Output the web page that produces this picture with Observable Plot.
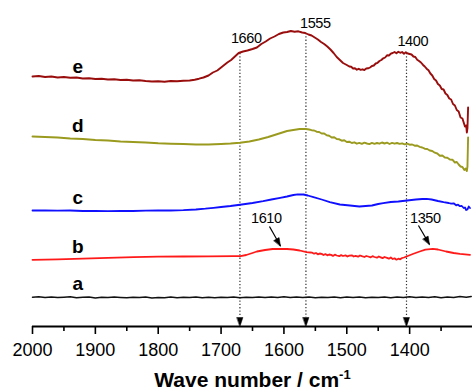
<!DOCTYPE html>
<html>
<head>
<meta charset="utf-8">
<script src="https://cdn.jsdelivr.net/npm/d3@7"></script>
<script src="https://cdn.jsdelivr.net/npm/@observablehq/plot@0.6"></script>
<style>
  html, body { margin: 0; padding: 0; background: #fff; }
  #chart { width: 472px; height: 389px; }
</style>
</head>
<body>
<div id="chart"></div>
<script>
// ---- data (wave number cm^-1, absorbance a.u. with offsets) ----
const seriesE = [[2000,2.50],[1990,2.505],[1980,2.495],[1970,2.50],[1960,2.49],[1950,2.495],[1940,2.487],[1930,2.49],[1920,2.48],[1910,2.482],[1900,2.475],[1890,2.478],[1880,2.47],[1870,2.472],[1860,2.465],[1850,2.468],[1840,2.46],[1830,2.462],[1820,2.455],[1810,2.45],[1800,2.452],[1790,2.448],[1780,2.455],[1770,2.452],[1760,2.458],[1750,2.46],[1742,2.468],[1735,2.478],[1728,2.49],[1720,2.51],[1713,2.54],[1706,2.56],[1698,2.60],[1690,2.64],[1684,2.665],[1678,2.70],[1672,2.735],[1665,2.75],[1658,2.76],[1650,2.775],[1643,2.79],[1636,2.825],[1629,2.85],[1622,2.88],[1615,2.90],[1608,2.925],[1601,2.94],[1595,2.945],[1589,2.955],[1583,2.948],[1577,2.952],[1571,2.94],[1566,2.935],[1561,2.92],[1556,2.91],[1551,2.89],[1546,2.87],[1541,2.845],[1536,2.825],[1531,2.80],[1526,2.77],[1521,2.735],[1516,2.695],[1511,2.665],[1506,2.635],[1500,2.615],[1496,2.60],[1493,2.598],[1490,2.58],[1487,2.583],[1484,2.568],[1481,2.577],[1478,2.566],[1475,2.572],[1472,2.565],[1469,2.58],[1466,2.582],[1463,2.59],[1460,2.605],[1457,2.61],[1454,2.63],[1451,2.637],[1448,2.655],[1445,2.665],[1442,2.682],[1439,2.69],[1436,2.712],[1433,2.71],[1430,2.728],[1427,2.735],[1424,2.745],[1421,2.733],[1418,2.748],[1415,2.737],[1412,2.745],[1409,2.728],[1406,2.742],[1403,2.73],[1400,2.725],[1397,2.72],[1394,2.70],[1391,2.695],[1388,2.668],[1385,2.655],[1382,2.64],[1379,2.618],[1376,2.60],[1373,2.578],[1370,2.562],[1367,2.53],[1364,2.51],[1361,2.475],[1358,2.46],[1355,2.425],[1352,2.41],[1349,2.375],[1346,2.37],[1343,2.33],[1340,2.315],[1337,2.28],[1334,2.27],[1331,2.225],[1328,2.21],[1325,2.165],[1322,2.15],[1319,2.09],[1316,2.08],[1314,2.04],[1312,2.0],[1310,2.01],[1309,1.94],[1308,1.985],[1307,2.19]];
const seriesD = [[2000,1.90],[1980,1.895],[1960,1.89],[1940,1.88],[1920,1.875],[1900,1.865],[1880,1.86],[1860,1.85],[1840,1.845],[1820,1.84],[1800,1.832],[1780,1.828],[1760,1.825],[1740,1.82],[1720,1.82],[1700,1.825],[1685,1.83],[1670,1.838],[1655,1.85],[1640,1.87],[1625,1.895],[1610,1.925],[1595,1.955],[1585,1.965],[1575,1.975],[1565,1.975],[1560,1.97],[1556,1.963],[1552,1.96],[1548,1.948],[1544,1.945],[1540,1.93],[1536,1.93],[1532,1.912],[1528,1.908],[1524,1.89],[1520,1.893],[1516,1.875],[1512,1.872],[1508,1.858],[1504,1.862],[1500,1.845],[1496,1.848],[1492,1.835],[1488,1.842],[1484,1.828],[1480,1.836],[1476,1.826],[1472,1.838],[1468,1.83],[1464,1.824],[1460,1.836],[1456,1.827],[1452,1.835],[1448,1.828],[1444,1.84],[1440,1.83],[1436,1.838],[1432,1.825],[1428,1.836],[1424,1.828],[1420,1.835],[1416,1.826],[1412,1.832],[1408,1.822],[1404,1.828],[1400,1.818],[1396,1.82],[1392,1.808],[1388,1.81],[1384,1.797],[1380,1.79],[1376,1.778],[1372,1.775],[1368,1.76],[1364,1.755],[1360,1.738],[1356,1.73],[1352,1.708],[1348,1.71],[1344,1.69],[1340,1.688],[1336,1.67],[1332,1.668],[1328,1.64],[1325,1.645],[1322,1.62],[1319,1.60],[1316,1.595],[1313,1.565],[1311,1.58],[1309,1.555],[1308,1.60],[1307,1.89]];
const seriesC = [[2000,1.16],[1980,1.162],[1960,1.158],[1940,1.16],[1920,1.155],[1900,1.157],[1880,1.153],[1860,1.156],[1840,1.155],[1820,1.158],[1800,1.16],[1780,1.16],[1760,1.163],[1740,1.17],[1725,1.178],[1712,1.187],[1700,1.195],[1685,1.205],[1667,1.22],[1650,1.235],[1633,1.253],[1620,1.27],[1606,1.287],[1595,1.30],[1585,1.315],[1578,1.322],[1569,1.32],[1562,1.31],[1553,1.293],[1540,1.27],[1527,1.243],[1511,1.22],[1495,1.21],[1480,1.20],[1470,1.205],[1460,1.21],[1450,1.225],[1442,1.233],[1430,1.245],[1418,1.25],[1404,1.26],[1390,1.27],[1380,1.275],[1373,1.277],[1365,1.27],[1355,1.255],[1346,1.243],[1338,1.235],[1334,1.228],[1330,1.232],[1326,1.212],[1323,1.218],[1320,1.203],[1317,1.205],[1314,1.185],[1312,1.19],[1310,1.165],[1308,1.17],[1306,1.20],[1304,1.185]];
const seriesB = [[2000,0.667],[1960,0.672],[1920,0.678],[1880,0.686],[1839,0.693],[1800,0.698],[1760,0.70],[1720,0.702],[1680,0.703],[1669,0.703],[1660,0.715],[1650,0.735],[1643,0.75],[1630,0.765],[1618,0.775],[1606,0.777],[1595,0.775],[1585,0.77],[1575,0.76],[1564,0.743],[1558,0.74],[1555,0.738],[1552,0.728],[1549,0.735],[1546,0.722],[1543,0.73],[1540,0.726],[1537,0.715],[1534,0.724],[1531,0.712],[1528,0.72],[1525,0.716],[1522,0.706],[1519,0.718],[1516,0.71],[1512,0.703],[1509,0.714],[1506,0.705],[1502,0.712],[1499,0.70],[1496,0.708],[1492,0.712],[1489,0.70],[1486,0.706],[1482,0.698],[1479,0.71],[1476,0.703],[1472,0.695],[1469,0.705],[1466,0.70],[1462,0.692],[1459,0.703],[1456,0.695],[1452,0.688],[1449,0.70],[1446,0.692],[1443,0.684],[1440,0.695],[1436,0.686],[1433,0.678],[1430,0.69],[1427,0.675],[1424,0.682],[1421,0.668],[1418,0.678],[1415,0.672],[1412,0.685],[1409,0.69],[1405,0.70],[1395,0.725],[1384,0.75],[1375,0.768],[1363,0.777],[1355,0.77],[1342,0.75],[1330,0.735],[1320,0.727],[1304,0.717]];
const seriesA = [[2000,0.293],[1990,0.297],[1980,0.29],[1970,0.295],[1960,0.289],[1950,0.293],[1940,0.298],[1930,0.288],[1920,0.292],[1910,0.296],[1900,0.285],[1890,0.293],[1880,0.289],[1870,0.294],[1860,0.29],[1850,0.287],[1840,0.293],[1830,0.289],[1820,0.295],[1810,0.286],[1800,0.291],[1790,0.288],[1780,0.294],[1770,0.287],[1760,0.292],[1750,0.289],[1740,0.295],[1730,0.288],[1720,0.292],[1710,0.287],[1700,0.293],[1690,0.289],[1680,0.295],[1670,0.288],[1660,0.293],[1650,0.29],[1640,0.296],[1630,0.289],[1620,0.294],[1610,0.29],[1600,0.297],[1590,0.289],[1580,0.294],[1570,0.291],[1560,0.296],[1550,0.288],[1540,0.293],[1530,0.29],[1520,0.295],[1510,0.287],[1500,0.294],[1490,0.29],[1480,0.296],[1470,0.288],[1460,0.293],[1450,0.289],[1440,0.295],[1430,0.288],[1420,0.294],[1410,0.29],[1400,0.297],[1390,0.289],[1380,0.295],[1370,0.29],[1360,0.298],[1350,0.288],[1340,0.296],[1330,0.29],[1320,0.299],[1310,0.292],[1302,0.30]];

const curveNames = ["a", "b", "c", "d", "e"];
const curveLabelWave = [1928, 1928, 1928, 1928, 1928];
const curveLabelY = [0.37, 0.74, 1.23, 1.95, 2.54];

const peakLabels = ["1660", "1555", "1400", "1610", "1350"];
const peakLabelWave = [1660, 1550, 1395, 1628, 1375];
const peakLabelY = [2.84, 2.99, 2.81, 1.04, 1.04];

const markerWave = [1670, 1565, 1405];   // dotted guide lines
const markerTop = [2.73, 2.93, 2.73];

const arrowFrom = [[1623, 1.00], [1386, 1.01]];
const arrowTo = [[1605.5, 0.805], [1368.4, 0.82]];

const majorTicks = [2000, 1900, 1800, 1700, 1600, 1500, 1400];
const minorTicks = [1950, 1850, 1750, 1650, 1550, 1450, 1350];
const axisTitle = "Wave number / cm";

const colors = {a: "#111111", b: "#ff1a1a", c: "#1010ff", d: "#9a9a1f", e: "#990d0d"};

const tri = {draw(ctx, l, r) { ctx.moveTo(0, -l); ctx.lineTo(-r, 0); ctx.lineTo(r, 0); ctx.closePath(); }};

const line = (data, c, w) => Plot.line(data, {x: d => d[0], y: d => d[1], stroke: c, strokeWidth: w});

const chart = Plot.plot({
  width: 472, height: 389,
  marginLeft: 32, marginRight: 0, marginTop: 0, marginBottom: 63,
  x: {domain: [2000, 1300]},
  y: {domain: [0, 3.26], axis: null},
  style: {fontFamily: "'Liberation Sans', Arial, sans-serif", background: "white", color: "black"},
  marks: [
    Plot.ruleX(markerWave, {x: d => d, y1: (d, i) => markerTop[i], y2: 0.09, stroke: "#333", strokeWidth: 1.2, strokeDasharray: "1.3,2"}),
    line(seriesA, colors.a, 1.5),
    line(seriesB, colors.b, 1.8),
    line(seriesC, colors.c, 1.8),
    line(seriesD, colors.d, 1.9),
    line(seriesE, colors.e, 1.9),
    Plot.vector(markerWave, {x: d => d, y: 0, rotate: 180, length: 9, r: 3, anchor: "end", shape: tri, fill: "black", stroke: "black", strokeWidth: 0.5}),
    Plot.link(arrowFrom, {x1: d => d[0], y1: d => d[1], x2: (d, i) => arrowTo[i][0], y2: (d, i) => arrowTo[i][1], stroke: "black", strokeWidth: 1.2}),
    Plot.vector(arrowTo, {x: d => d[0], y: d => d[1], rotate: 150, length: 8, r: 3, anchor: "end", shape: tri, fill: "black", stroke: "black", strokeWidth: 0.5}),
    Plot.ruleY([0], {stroke: "black", strokeWidth: 1.8}),
    Plot.axisX(majorTicks, {tickSize: 8, tickPadding: 9, fontSize: 18, strokeWidth: 1.6, label: null, tickFormat: d => String(d)}),
    Plot.axisX(minorTicks, {tickSize: 5, tickFormat: () => "", strokeWidth: 1.6, label: null}),
    Plot.text(curveNames, {x: (d, i) => curveLabelWave[i], y: (d, i) => curveLabelY[i], text: d => d, lineAnchor: "bottom", fontSize: 19, fontWeight: "bold"}),
    Plot.text(peakLabels, {x: (d, i) => peakLabelWave[i], y: (d, i) => peakLabelY[i], text: d => d, lineAnchor: "bottom", fontSize: 14.5}),
    Plot.text([axisTitle], {frameAnchor: "bottom", dy: 60, lineAnchor: "bottom", text: d => d, fontSize: 21, fontWeight: "bold"})
  ]
});

d3.select(chart).selectAll("text").filter(function() { return this.textContent === axisTitle; })
  .append("tspan").attr("dy", "-0.55em").attr("font-size", "13px").text("-1");
d3.select(chart).selectAll("text").filter(function() { return this.parentNode && this.parentNode.getAttribute("font-size") === "14.5"; })
  .attr("letter-spacing", "-0.4");

document.getElementById("chart").appendChild(chart);
</script>
</body>
</html>
